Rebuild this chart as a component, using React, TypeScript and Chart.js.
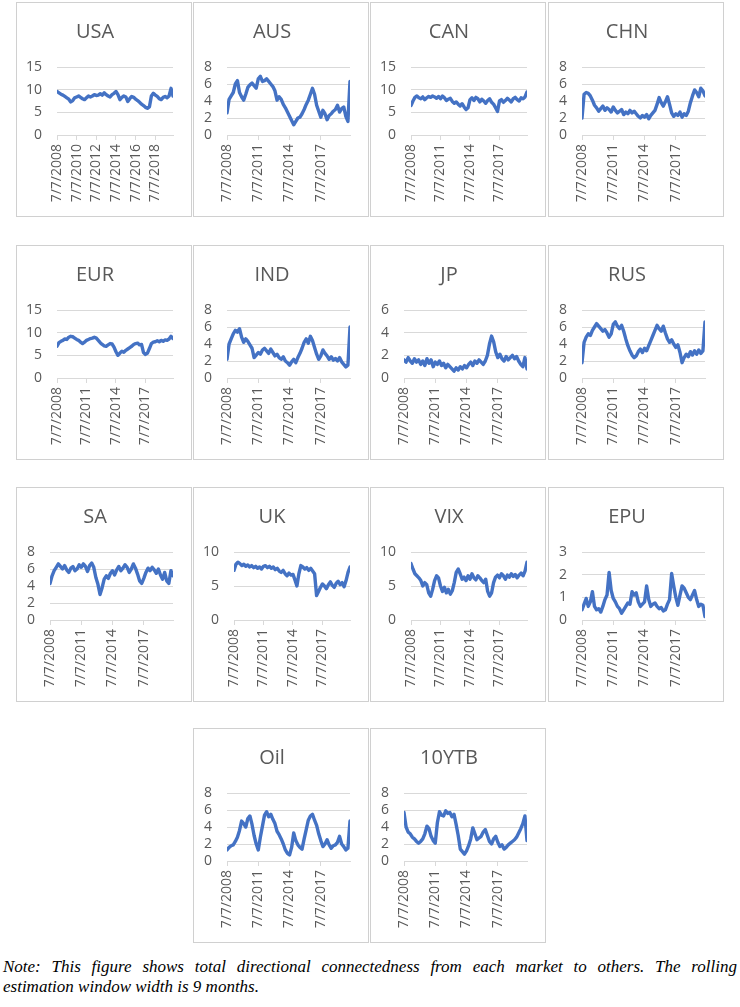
import React, { useEffect, useRef } from 'react';
import { Chart, registerables } from 'chart.js';
Chart.register(...registerables);

const X_START = 2008.51;
const X_END = 2020.33;
const ticksEvery3 = ['7/7/2008', '7/7/2011', '7/7/2014', '7/7/2017'];
const ticksEvery2 = ['7/7/2008', '7/7/2010', '7/7/2012', '7/7/2014', '7/7/2016', '7/7/2018'];

const usa = [9.6, 9.3, 9.0, 8.8, 8.5, 8.2, 7.9, 7.3, 7.6, 8.2,
  8.4, 8.6, 8.3, 8.0, 7.8, 8.2, 8.6, 8.4, 8.6, 8.9,
  8.7, 8.8, 9.1, 8.8, 9.3, 8.9, 8.6, 8.4, 8.9, 9.2,
  9.6, 8.9, 7.8, 8.3, 8.6, 8.4, 7.4, 8.0, 8.5, 8.3,
  7.9, 7.6, 7.2, 6.8, 6.5, 6.1, 5.9, 6.2, 8.6, 9.2,
  8.8, 8.5, 8.0, 7.8, 8.3, 8.5, 8.2, 8.6, 10.3, 8.6];
const aus = [2.6, 4.2, 4.6, 5.0, 6.0, 6.4, 5.0, 4.5, 4.1, 4.8,
  5.6, 5.9, 6.1, 5.8, 5.5, 6.6, 6.9, 6.3, 6.4, 6.6,
  6.3, 6.0, 5.7, 5.2, 4.1, 4.5, 4.2, 3.6, 3.2, 2.7,
  2.2, 1.7, 1.2, 1.6, 2.0, 2.1, 2.5, 3.0, 3.6, 4.1,
  4.8, 5.5, 4.8, 3.5, 2.8, 2.1, 2.9, 2.5, 1.8, 2.3,
  2.5, 2.8, 3.0, 3.5, 2.7, 3.1, 3.3, 2.2, 1.6, 6.3];
const can = [6.5, 7.5, 8.3, 8.6, 8.2, 8.0, 8.4, 7.8, 8.2, 8.5,
  8.3, 8.6, 8.4, 8.1, 8.5, 8.0, 8.6, 8.2, 7.6, 7.9,
  8.1, 7.4, 7.0, 7.3, 6.8, 6.4, 6.9, 6.2, 5.6, 6.0,
  7.8, 8.2, 7.6, 8.3, 8.0, 7.3, 7.9, 7.5, 7.0, 7.6,
  8.0, 7.2, 6.8, 6.0, 5.2, 7.5, 7.8, 7.2, 7.6, 8.1,
  7.7, 7.3, 8.0, 8.3, 7.8, 7.5, 8.2, 8.0, 8.4, 9.5];
const chn = [2.0, 4.8, 5.0, 4.9, 4.6, 4.1, 3.5, 3.2, 2.8, 3.1,
  3.4, 2.9, 3.2, 3.0, 2.7, 3.3, 2.9, 2.6, 2.8, 3.0,
  2.4, 2.7, 2.5, 2.9, 2.6, 2.8, 2.5, 2.2, 2.0, 2.3,
  2.1, 2.4, 1.9, 2.3, 2.6, 2.9, 3.6, 4.4, 3.8, 3.4,
  3.9, 4.5, 3.6, 2.6, 2.2, 2.5, 2.3, 2.7, 2.1, 2.5,
  2.3, 2.8, 3.8, 4.6, 5.3, 5.0, 4.5, 5.5, 5.2, 4.6];
const eur = [7.0, 7.8, 8.1, 8.3, 8.6, 8.5, 9.0, 9.2, 9.1, 8.8,
  8.5, 8.3, 7.9, 7.6, 7.9, 8.3, 8.5, 8.7, 8.8, 9.0,
  8.8, 8.3, 7.8, 7.4, 7.1, 7.0, 7.3, 7.6, 7.5, 6.8,
  5.8, 5.0, 5.5, 5.9, 5.7, 6.1, 6.4, 6.7, 7.0, 7.4,
  7.6, 7.7, 7.3, 7.4, 5.6, 5.2, 5.5, 6.5, 7.6, 7.9,
  8.0, 8.2, 8.0, 8.3, 8.1, 8.4, 8.3, 8.6, 9.2, 8.7];
const ind = [2.2, 4.0, 4.6, 5.2, 5.6, 5.4, 5.8, 4.8, 4.2, 4.6,
  4.3, 3.9, 3.5, 2.4, 2.7, 3.0, 2.8, 3.3, 3.5, 3.2,
  2.9, 3.4, 3.0, 2.6, 2.8, 2.4, 2.2, 2.5, 2.0, 1.8,
  1.5, 1.9, 2.2, 1.8, 2.4, 2.9, 3.5, 4.2, 4.6, 4.1,
  4.9, 4.4, 3.6, 2.8, 2.2, 2.6, 3.3, 2.9, 2.6, 2.2,
  2.5, 2.1, 2.3, 2.0, 2.4, 1.9, 1.6, 1.3, 1.5, 6.0];
const jp = [1.6, 1.4, 1.8, 1.5, 1.3, 1.7, 1.4, 1.6, 1.2, 1.5,
  1.1, 1.7, 1.3, 1.6, 1.0, 1.4, 1.2, 1.5, 1.1, 1.3,
  0.9, 1.2, 1.0, 0.8, 0.6, 0.9, 0.7, 1.0, 0.8, 1.1,
  0.9, 1.2, 1.4, 1.1, 1.5, 1.3, 1.6, 1.4, 1.2, 1.5,
  2.0, 3.0, 3.7, 3.2, 2.3, 1.8, 2.1, 1.7, 1.5, 1.9,
  1.6, 1.8, 2.0, 1.7, 1.9, 1.5, 1.2, 1.0, 1.8, 0.8];
const rus = [1.8, 4.2, 4.8, 5.2, 5.0, 5.6, 6.0, 6.4, 6.1, 5.8,
  5.5, 5.7, 5.3, 4.8, 5.2, 6.3, 6.6, 6.1, 5.8, 6.2,
  5.5, 4.6, 3.8, 3.2, 2.7, 2.4, 2.6, 3.1, 3.4, 3.0,
  3.5, 3.2, 3.8, 4.4, 5.0, 5.6, 6.2, 5.8, 5.5, 6.1,
  5.3, 4.6, 4.2, 4.5, 4.0, 3.6, 3.9, 3.0, 1.8, 2.4,
  2.8, 2.5, 3.1, 2.7, 3.2, 2.8, 3.3, 2.9, 3.2, 6.6];
const sa = [4.3, 5.2, 5.8, 6.2, 6.6, 6.3, 6.0, 6.4, 5.9, 5.6,
  6.1, 6.3, 5.8, 6.0, 6.5, 6.2, 6.6, 6.3, 5.7, 6.4,
  6.7, 6.2, 5.0, 4.2, 3.0, 3.8, 4.8, 5.2, 4.9, 5.5,
  5.8, 5.3, 5.9, 6.3, 5.8, 6.1, 6.5, 6.2, 5.6, 6.0,
  6.6, 6.1, 5.4, 4.6, 4.3, 4.9, 5.6, 6.1, 5.8, 6.2,
  5.9, 5.5, 6.0, 5.3, 4.8, 5.6, 4.6, 4.3, 5.8, 5.2];
const uk = [7.3, 8.2, 8.5, 8.3, 8.0, 8.2, 7.9, 8.1, 7.8, 8.0,
  7.7, 7.9, 7.6, 7.8, 7.5, 7.9, 8.0, 7.7, 7.9, 7.6,
  7.8, 7.4, 7.6, 7.2, 7.0, 7.3, 6.8, 6.5, 6.9, 6.6,
  6.7, 5.9, 5.0, 6.8, 8.0, 7.8, 7.5, 7.7, 7.3, 7.6,
  7.2, 6.8, 3.6, 4.2, 4.8, 5.3, 5.0, 4.6, 5.2, 5.6,
  5.1, 4.8, 5.4, 5.7, 5.2, 5.5, 4.9, 5.8, 7.0, 7.8];
const vix = [8.3, 7.5, 6.8, 6.5, 6.2, 5.8, 5.0, 5.5, 5.2, 4.0,
  3.5, 4.5, 5.8, 6.5, 6.2, 5.0, 4.2, 4.8, 4.0, 4.5,
  3.8, 4.3, 5.5, 7.0, 7.5, 6.8, 6.0, 6.3, 5.8, 6.5,
  6.0, 6.8, 6.2, 5.9, 6.5, 6.2, 5.8, 5.5, 6.0, 4.2,
  3.5, 4.0, 5.5, 6.3, 6.6, 6.2, 6.8, 6.5, 6.0, 6.6,
  6.3, 6.8, 6.4, 6.7, 6.2, 6.6, 6.9, 6.5, 7.2, 8.5];
const epu = [0.45, 0.7, 0.95, 0.6, 0.8, 1.25, 0.6, 0.45, 0.5, 0.35,
  0.6, 0.9, 1.1, 2.1, 1.3, 0.95, 0.8, 0.6, 0.5, 0.3,
  0.45, 0.6, 0.75, 0.7, 1.25, 1.1, 1.2, 0.8, 0.6, 0.7,
  0.8, 1.5, 0.9, 0.6, 0.7, 0.75, 0.6, 0.5, 0.55, 0.4,
  0.45, 0.7, 0.9, 2.05, 1.5, 1.0, 0.65, 1.1, 1.5, 1.4,
  1.2, 1.0, 0.9, 1.1, 1.3, 0.9, 0.6, 0.7, 0.65, 0.15];
const oil = [1.3, 1.6, 1.8, 1.9, 2.3, 2.8, 3.6, 4.7, 4.4, 4.0,
  5.0, 5.3, 4.3, 3.0, 2.0, 1.3, 2.8, 4.1, 5.4, 5.8,
  5.2, 5.5, 4.9, 4.4, 3.5, 3.1, 2.6, 2.0, 1.3, 0.9,
  0.7, 1.6, 3.3, 2.4, 1.9, 1.6, 1.4, 2.6, 3.7, 4.8,
  5.3, 5.5, 4.8, 4.2, 3.2, 2.4, 1.7, 2.0, 2.5, 1.9,
  1.5, 1.8, 1.9, 2.2, 2.9, 2.0, 1.7, 1.3, 1.5, 4.7];
const tenYTB = [5.7, 4.0, 3.4, 3.2, 2.8, 2.6, 2.3, 2.1, 2.3, 2.6,
  3.2, 4.1, 3.8, 2.9, 2.4, 2.1, 4.5, 5.8, 5.4, 5.3,
  5.9, 5.6, 5.7, 5.2, 5.5, 4.3, 3.0, 1.4, 1.1, 0.8,
  1.2, 1.8, 2.6, 3.9, 3.2, 2.5, 2.7, 2.9, 3.4, 3.7,
  3.0, 2.3, 2.0, 2.6, 2.9, 2.2, 1.7, 1.9, 1.4, 1.6,
  1.9, 2.1, 2.3, 2.5, 2.8, 3.3, 3.8, 4.4, 5.3, 2.4];

const names = ['USA', 'AUS', 'CAN', 'CHN', 'EUR', 'IND', 'JP', 'RUS', 'SA', 'UK', 'VIX', 'EPU', 'Oil', '10YTB'];
const seriesList = [usa, aus, can, chn, eur, ind, jp, rus, sa, uk, vix, epu, oil, tenYTB];
const yMaxes = [15, 8, 15, 8, 15, 8, 6, 8, 8, 10, 10, 3, 8, 8];
const ySteps = [5, 2, 5, 2, 5, 2, 2, 2, 2, 5, 5, 1, 2, 2];
const xLabelSets = [ticksEvery2, ticksEvery3, ticksEvery3, ticksEvery3, ticksEvery3, ticksEvery3, ticksEvery3,
  ticksEvery3, ticksEvery3, ticksEvery3, ticksEvery3, ticksEvery3, ticksEvery3, ticksEvery3];

const noteLine1 = 'Note: This figure shows total directional connectedness from each market to others. The rolling';
const noteLine2 = 'estimation window width is 9 months.';

// layout (page pixels)
const colLefts = [16, 193, 370, 548];
const rowTops = [2, 245, 487, 728];
const panelCells = [[0, 0], [0, 1], [0, 2], [0, 3], [1, 0], [1, 1], [1, 2], [1, 3], [2, 0], [2, 1], [2, 2], [2, 3], [3, 1], [3, 2]];
const PANEL_W = 176;
const PANEL_H = 215;

const FONT = 'Open Sans, Lato, sans-serif';
const GREY_TEXT = '#595959';
const GRID = '#d9d9d9';
const LINE = '#4472C4';

function Panel({ idx }: { idx: number }) {
  const ref = useRef<HTMLCanvasElement>(null);
  useEffect(() => {
    const values = seriesList[idx];
    const labels = xLabelSets[idx];
    const yMax = yMaxes[idx];
    const n = values.length;
    const data = values.map((v, i) => ({ x: X_START + (i * (X_END - X_START)) / (n - 1), y: v }));
    const tickVals = labels.map((l) => parseInt(l.split('/')[2], 10) + 0.515);
    const yWidth = yMax >= 10 ? 40 : 33;
    const chart = new Chart(ref.current as HTMLCanvasElement, {
      type: 'line',
      data: {
        datasets: [{
          data,
          borderColor: LINE,
          borderWidth: 3.4,
          pointRadius: 0,
          tension: 0,
          borderJoinStyle: 'round',
          borderCapStyle: 'round',
        }],
      },
      options: {
        animation: false,
        responsive: false,
        maintainAspectRatio: false,
        layout: { padding: { top: 0, right: 18, bottom: 0, left: 0 } },
        plugins: {
          legend: { display: false },
          tooltip: { enabled: false },
          title: {
            display: true,
            text: names[idx],
            color: GREY_TEXT,
            font: { family: FONT, size: 20, weight: 'normal' },
            padding: { top: 17, bottom: 23 },
          },
        },
        scales: {
          x: {
            type: 'linear',
            min: X_START,
            max: X_END,
            afterBuildTicks: (ax: any) => { ax.ticks = tickVals.map((v) => ({ value: v })); },
            afterFit: (s: any) => { s.height = 81; },
            ticks: {
              autoSkip: false,
              minRotation: 90,
              maxRotation: 90,
              padding: 4,
              color: GREY_TEXT,
              font: { family: FONT, size: 14 },
              callback: (_v: any, i: number) => labels[i],
            },
            grid: { drawOnChartArea: false, drawTicks: true, tickLength: 5, color: GRID },
            border: { display: true, color: GRID },
          },
          y: {
            min: 0,
            max: yMax,
            afterFit: (s: any) => { s.width = yWidth; },
            ticks: {
              stepSize: ySteps[idx], autoSkip: false, padding: 15, color: GREY_TEXT,
              font: { family: FONT, size: 14, lineHeight: 1 },
            },
            grid: { color: GRID, drawTicks: false },
            border: { display: false },
          },
        },
      },
    } as any);
    return () => chart.destroy();
  }, [idx]);
  const [r, c] = panelCells[idx];
  return (
    <div style={{
      position: 'absolute', left: colLefts[c], top: rowTops[r], width: PANEL_W, height: PANEL_H,
      border: '1px solid #d0d0d0', boxSizing: 'border-box', background: '#fff',
    }}>
      <canvas ref={ref} width={PANEL_W - 2} height={PANEL_H - 2} style={{ display: 'block' }} />
    </div>
  );
}

const noteStyle: React.CSSProperties = {
  position: 'absolute', left: 3, width: 734, whiteSpace: 'nowrap',
  fontFamily: '"Liberation Serif", "Times New Roman", serif', fontStyle: 'italic',
  fontSize: 17, lineHeight: '20px', color: '#000',
};

export default function App() {
  return (
    <div style={{ position: 'absolute', left: 0, top: 0, width: 740, height: 1007, background: '#fff', overflow: 'hidden' }}>
      {names.map((_n, i) => <Panel key={i} idx={i} />)}
      <div style={{ ...noteStyle, top: 957, whiteSpace: 'normal', textAlign: 'justify', textAlignLast: 'justify' }}>{noteLine1}</div>
      <div style={{ ...noteStyle, top: 977 }}>{noteLine2}</div>
    </div>
  );
}
